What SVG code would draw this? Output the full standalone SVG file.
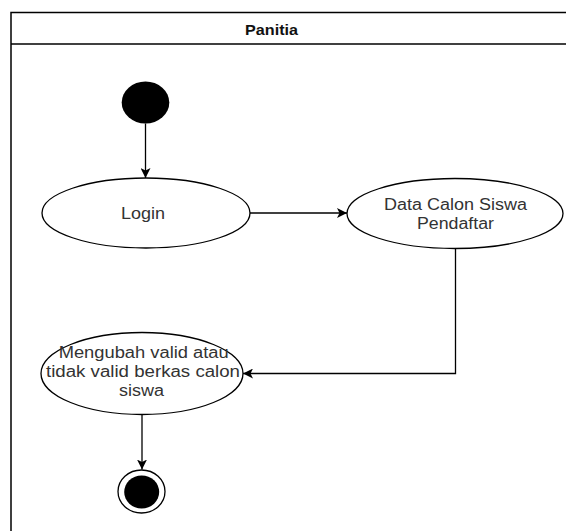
<svg xmlns="http://www.w3.org/2000/svg" width="566" height="531" viewBox="0 0 566 531">
<style>
.frame{fill:#fff;stroke:#000;stroke-width:1.5}
.node{fill:#fff;stroke:#000;stroke-width:1.3}
.lbl{font-family:"Liberation Sans",Arial,sans-serif;font-size:16px;fill:#333;text-anchor:middle}
.title{font-family:"Liberation Sans",Arial,sans-serif;font-size:14px;font-weight:bold;fill:#111;text-anchor:middle}
.edge{fill:none;stroke:#000;stroke-width:1.3}
</style>
<defs>
<marker id="arr" viewBox="0 0 10 10" refX="10" refY="5" markerWidth="10" markerHeight="10" markerUnits="userSpaceOnUse" orient="auto">
<path d="M0,0 L10,5 L0,10 L2.5,5 Z" fill="#000"/>
</marker>
</defs>
<rect width="566" height="531" fill="#fff"/>
<g id="lane">
<rect class="frame" x="11" y="12.5" width="600" height="540"/>
<line x1="11" y1="44" x2="566" y2="44" stroke="#000" stroke-width="1.5"/>
<text class="title" x="271.5" y="35" textLength="53" lengthAdjust="spacingAndGlyphs">Panitia</text>
</g>
<g id="start">
<ellipse cx="145.5" cy="102.5" rx="23.8" ry="21" fill="#000"/>
</g>
<g id="login">
<ellipse class="node" cx="146" cy="213" rx="104" ry="35"/>
<text class="lbl" x="143" y="219" textLength="44" lengthAdjust="spacingAndGlyphs">Login</text>
</g>
<g id="data">
<ellipse class="node" cx="455" cy="213.5" rx="108" ry="35"/>
<text class="lbl" x="455.5" y="210" textLength="143" lengthAdjust="spacingAndGlyphs">Data Calon Siswa</text>
<text class="lbl" x="455.5" y="228.5" textLength="77" lengthAdjust="spacingAndGlyphs">Pendaftar</text>
</g>
<g id="ubah">
<ellipse class="node" cx="142" cy="373.5" rx="101" ry="41"/>
<text class="lbl" x="143.7" y="358.3" textLength="170" lengthAdjust="spacingAndGlyphs">Mengubah valid atau</text>
<text class="lbl" x="143" y="377" textLength="194" lengthAdjust="spacingAndGlyphs">tidak valid berkas calon</text>
<text class="lbl" x="141.5" y="396" textLength="45" lengthAdjust="spacingAndGlyphs">siswa</text>
</g>
<g id="end">
<ellipse cx="141.5" cy="491.5" rx="23.5" ry="21.5" fill="#fff" stroke="#000" stroke-width="1.3"/>
<ellipse cx="141.7" cy="492" rx="17.5" ry="16.5" fill="#000"/>
</g>
<g id="connectors">
<line class="edge" x1="145.5" y1="123.5" x2="145.5" y2="178" marker-end="url(#arr)"/>
<line class="edge" x1="250" y1="213" x2="347" y2="213" marker-end="url(#arr)"/>
<polyline class="edge" points="455.5,248.5 455.5,373.5 243,373.5" marker-end="url(#arr)"/>
<line class="edge" x1="142" y1="414.5" x2="142" y2="469.5" marker-end="url(#arr)"/>
</g>
</svg>
